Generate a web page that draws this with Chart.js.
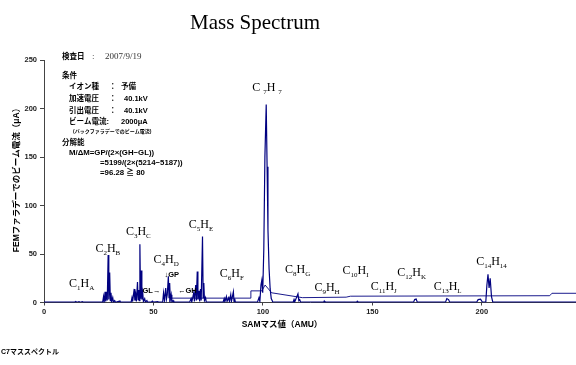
<!DOCTYPE html>
<html>
<head>
<meta charset="utf-8">
<script src="https://cdn.jsdelivr.net/npm/chart.js@4/dist/chart.umd.min.js"></script>
<style>
  html, body { margin: 0; padding: 0; background: #fff; }
  #wrap { position: relative; width: 576px; height: 365px; }
</style>
</head>
<body>
<div id="wrap"><canvas id="spectrum"></canvas></div>
<script>
// C7 mass spectrum, beam current on the Faraday cup vs SAM mass value

const massMain = [
  0, 14, 14.5, 15, 16, 16.5, 17.5, 18,
  26.8, 27.2, 27.5, 27.9, 28.2, 28.6, 28.9, 29.3, 29.6, 30.0, 30.3, 30.6, 30.9, 31.4, 31.7, 32.3, 32.6, 34.7, 35,
  39.8, 40.2, 40.5, 41.2, 41.5, 41.9, 42.2, 42.7, 43.0, 43.3, 43.5, 43.8, 44.1, 44.4, 44.7, 45.1, 45.4, 46, 46.3, 47, 47.3,
  49, 49.5, 50, 52, 52.3,
  54.2, 54.6, 55, 55.6, 55.9, 56.3, 56.8, 57.1, 57.4, 57.7, 58.1, 58.4, 59, 59.3,
  66.5, 67.2, 67.5, 68.4, 68.7, 69.3, 69.6, 70.0, 70.3, 70.8, 71.1, 71.5, 71.8, 72.4, 72.7, 73.0, 73.3, 73.8, 74.1,
  81.8, 82.3, 82.6, 83.3, 83.6, 84.4, 84.7, 85.3, 85.6, 86.5, 86.8, 87.1, 87.4,
  97.5, 98.2, 98.6, 99.1, 99.5, 99.9, 100.4, 100.9, 101.5, 101.9, 102.3, 102.8, 103.3, 103.8, 104.5,
  113.8, 114.2, 114.5, 116.0, 116.4, 116.8, 117.2,
  127.7, 128, 128.3, 142.8, 143.1, 143.4,
  168.8, 169.3, 170, 170.5, 183.4, 184, 184.8, 185.3,
  197.6, 198.3, 199.4, 200.2, 201.8, 202.3, 202.8, 203.3, 203.8, 204.4, 205, 243
];
const currentMain = [
  0.3, 0.3, 1, 0.3, 1, 0.3, 1, 0.3,
  0.3, 6, 0.5, 11, 1, 11, 2, 49, 3, 31, 2, 10, 1, 5, 0.5, 2, 0.3, 1.5, 0.3,
  0.3, 5, 1, 14, 2, 8, 1, 21, 3, 13, 2, 60, 4, 33, 3, 10, 1, 4, 0.5, 2, 0.3,
  0.3, 1.5, 0.3, 1, 0.3,
  0.3, 10, 2, 15, 3, 8, 27, 5, 20, 3, 8, 0.5, 2, 0.3,
  0.3, 4, 0.5, 10, 1, 18, 2, 32, 3, 12, 1, 14, 2, 68, 5, 20, 2, 5, 0.3,
  0.3, 4, 0.5, 6, 1, 5, 1, 8, 1, 11, 1, 4, 0.3,
  0.3, 5, 1, 18, 23, 10, 55, 150, 204, 140, 75, 35, 14, 4, 0.5,
  0.3, 3, 0.5, 9, 2, 3, 0.3,
  0.3, 1.5, 0.3, 0.3, 1.2, 0.3,
  0.3, 3, 3.5, 0.3, 0.3, 4, 3, 0.3,
  0.3, 3, 3.5, 0.5, 0.5, 18, 29, 15, 25, 6, 0.3, 0.3
];

// return sweep of the scan, drawn as a second thinner trace
const massSweep = [57.4, 57.4, 68.3, 94.5, 94.5, 99.5, 101, 104, 118, 138, 140, 231, 232, 243];
const currentSweep = [0.3, 4.5, 4.5, 4.5, 12, 12, 18, 10, 5, 5.5, 6.5, 7, 9.5, 9.5];

const yTicks = [0, 50, 100, 150, 200, 250];
const xTicks = [0, 50, 100, 150, 200];

// formula labels: [carbon, hydrogen suffix, left mass, baseline current]
const formulas = [
  ['1', 'A', 11.4, 16.3], ['2', 'B', 23.5, 52.5], ['3', 'C', 37.4, 69.7],
  ['4', 'D', 50.0, 40.5], ['5', 'E', 66.1, 77], ['6', 'F', 80.3, 26.6],
  ['7', '7', 95.1, 217.8], ['8', 'G', 110.1, 30], ['9', 'H', 123.5, 12.2],
  ['10', 'I', 136.4, 29], ['11', 'J', 149.2, 12.9], ['12', 'K', 161.4, 27.4],
  ['13', 'L', 178.0, 12.9], ['14', '14', 197.4, 38.7]
];
const gapMarks = [['↓GP', 55, 26.6], ['GL→', 45, 9.5], ['←GH', 61.2, 9.5]];

const infoLines = [
  { t: '条件', x: 62, y: 78 },
  { t: 'イオン種', x: 69, y: 89 }, { t: '：', x: 109, y: 89 }, { t: '予備', x: 121, y: 89 },
  { t: '加速電圧', x: 69, y: 101 }, { t: '：', x: 109, y: 101 }, { t: '40.1kV', x: 124, y: 101 },
  { t: '引出電圧', x: 69, y: 113 }, { t: '：', x: 109, y: 113 }, { t: '40.1kV', x: 124, y: 113 },
  { t: 'ビーム電流:', x: 69, y: 124 }, { t: '2000μA', x: 121, y: 124 },
  { t: '分解能', x: 62, y: 145 },
  { t: 'M/ΔM=GP/(2×(GH−GL))', x: 69, y: 155 },
  { t: '=5199/(2×(5214−5187))', x: 100, y: 165 },
  { t: '=96.28 ≧ 80', x: 100, y: 175 }
];

const NAVY = '#000080';
const JP = '"Liberation Sans", "Noto Sans CJK JP", sans-serif';
const SERIF = '"Liberation Serif", "DejaVu Serif", serif';

const textPlugin = {
  id: 'notes',
  afterDraw(chart) {
    const { ctx, scales: { x, y } } = chart;
    ctx.save();
    ctx.fillStyle = '#000';
    ctx.textBaseline = 'alphabetic';

    // title
    ctx.font = '21px ' + SERIF;
    ctx.textAlign = 'center';
    ctx.fillText('Mass Spectrum', 255, 29);

    // formula labels
    ctx.textAlign = 'left';
    formulas.forEach(([c, h, m, v]) => {
      let px = x.getPixelForValue(m);
      const py = y.getPixelForValue(v);
      const sep = c === '7' && h === '7' ? ' ' : '';
      [['C' + sep, 12, 0], [c, 7, 3], ['H' + sep, 12, 0], [h, 7, 3]].forEach(([s, size, dy]) => {
        ctx.font = size + 'px ' + SERIF;
        ctx.fillText(s, px, py + dy);
        px += ctx.measureText(s).width;
      });
    });

    ctx.font = 'bold 7.5px ' + JP;
    gapMarks.forEach(([s, m, v]) => ctx.fillText(s, x.getPixelForValue(m), y.getPixelForValue(v)));

    // inspection info block
    ctx.font = 'bold 7.5px ' + JP;
    ctx.fillText('検査日', 62, 59);
    ctx.font = '9px ' + SERIF;
    ctx.fillStyle = '#333';
    ctx.fillText(':', 92, 59);
    ctx.fillText('2007/9/19', 105, 59);
    ctx.fillStyle = '#000';
    infoLines.forEach(l => {
      ctx.font = (l.t.startsWith('M') || l.t.startsWith('=') ? 'bold 7.8px ' : 'bold 7.5px ') + JP;
      ctx.fillText(l.t, l.x, l.y);
    });
    ctx.font = 'bold 5px ' + JP;
    ctx.fillText('(バックファラデーでのビーム電流)', 73, 133);

    // axis titles
    ctx.font = 'bold 8.5px ' + JP;
    ctx.textAlign = 'center';
    ctx.fillText('SAMマス値（AMU）', 282, 327);
    ctx.save();
    ctx.translate(19, 178);
    ctx.rotate(-Math.PI / 2);
    ctx.fillText('FEMファラデーでのビーム電流（μA）', 0, 0);
    ctx.restore();

    ctx.textAlign = 'left';
    ctx.font = 'bold 7px ' + JP;
    ctx.fillText('C7マススペクトル', 1, 354);
    ctx.restore();
  }
};

new Chart(document.getElementById('spectrum'), {
  type: 'line',
  data: {
    datasets: [
      {
        data: massMain.map((m, i) => ({ x: m, y: currentMain[i] })),
        borderColor: NAVY, borderWidth: 1.2, pointRadius: 0, tension: 0
      },
      {
        data: massSweep.map((m, i) => ({ x: m, y: currentSweep[i] })),
        borderColor: NAVY, borderWidth: 0.9, pointRadius: 0, tension: 0
      }
    ]
  },
  options: {
    responsive: true, maintainAspectRatio: false, animation: false,
    layout: { padding: { top: 60, left: 0, right: 0, bottom: 0 } },
    plugins: { legend: { display: false }, tooltip: { enabled: false }, title: { display: false } },
    scales: {
      x: {
        type: 'linear', min: 0, max: 243,
        afterBuildTicks: s => { s.ticks = xTicks.map(v => ({ value: v })); },
        afterFit: s => { s.height = 62.5; },
        ticks: { color: '#222', font: { family: 'Liberation Sans', size: 7.5, weight: 'bold' }, padding: 2, maxRotation: 0 },
        grid: { drawOnChartArea: false, drawTicks: true, tickLength: 3, color: '#444' },
        border: { display: true, color: '#444', width: 1 }
      },
      y: {
        min: 0, max: 250,
        afterBuildTicks: s => { s.ticks = yTicks.map(v => ({ value: v })); },
        afterFit: s => { s.width = 44; },
        ticks: { color: '#222', font: { family: 'Liberation Sans', size: 7.5, weight: 'bold' }, padding: 3 },
        grid: { drawOnChartArea: false, drawTicks: true, tickLength: 4, color: '#444' },
        border: { display: true, color: '#444', width: 1 }
      }
    }
  },
  plugins: [textPlugin]
});
</script>
</body>
</html>
